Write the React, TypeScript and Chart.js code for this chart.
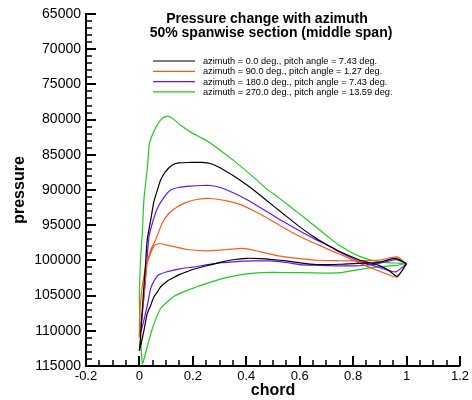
import React, { useEffect, useRef } from 'react';
import { Chart, registerables } from 'chart.js';

Chart.register(...registerables);

type Pt = [number, number];

// ---------- data (chord x, pressure) ----------
const titleLines = ['Pressure change with azimuth', '50% spanwise section (middle span)'];
const xAxisTitle = 'chord';
const yAxisTitle = 'pressure';

const seriesLabels = [
  'azimuth = 0.0 deg., pitch angle = 7.43 deg.',
  'azimuth = 90.0 deg., pitch angle = 1.27 deg.',
  'azimuth = 180.0 deg., pitch angle = 7.43 deg.',
  'azimuth = 270.0 deg., pitch angle = 13.59 deg.',
];
const seriesColors = ['#000000', '#ff5a14', '#6414ff', '#1ecc1e'];

// azimuth 0 (black)
const az0Upper: Pt[] = [
  [0.0, 112800], [0.004, 111000], [0.014, 105200], [0.023, 100450], [0.029, 97140],
  [0.042, 94300], [0.054, 91690], [0.067, 90030], [0.079, 88610], [0.097, 87420],
  [0.122, 86470], [0.147, 86150], [0.19, 86090], [0.234, 86090], [0.265, 86230],
  [0.3, 86800], [0.34, 87700], [0.38, 88700], [0.42, 89800], [0.475, 91450],
  [0.537, 93340], [0.599, 95200], [0.661, 96850], [0.711, 97950], [0.748, 98700],
  [0.822, 99900], [0.896, 100700], [0.933, 101400], [0.965, 102260], [1.0, 100450],
];
const az0Lower: Pt[] = [
  [0.0, 112800], [0.017, 109930], [0.029, 107560], [0.042, 106400], [0.054, 105200],
  [0.067, 104500], [0.079, 103780], [0.104, 102950], [0.13, 102400], [0.153, 101950],
  [0.178, 101600], [0.203, 101250], [0.252, 100750], [0.302, 100270], [0.351, 99910],
  [0.401, 99700], [0.45, 99740], [0.5, 99880], [0.55, 100080], [0.624, 100450],
  [0.674, 100600], [0.748, 100550], [0.822, 100410], [0.896, 100270], [0.959, 99700],
  [1.0, 100450],
];

// azimuth 90 (orange)
const az90Upper: Pt[] = [
  [0.0, 110900], [0.011, 107500], [0.027, 100830], [0.042, 98560], [0.06, 97140],
  [0.085, 94760], [0.11, 93340], [0.141, 92400], [0.178, 91730], [0.215, 91350],
  [0.265, 91210], [0.327, 91550], [0.376, 92050], [0.42, 92800], [0.47, 93800],
  [0.52, 94900], [0.57, 96000], [0.62, 96950], [0.67, 97800], [0.72, 98650],
  [0.77, 99450], [0.822, 100350], [0.872, 101160], [0.922, 101870], [0.965, 102360],
  [1.0, 100550],
];
const az90Lower: Pt[] = [
  [0.0, 110900], [0.004, 106000], [0.02, 101500], [0.035, 99700], [0.055, 97900],
  [0.075, 97600], [0.1, 97800], [0.13, 98050], [0.18, 98450], [0.25, 98650],
  [0.33, 98450], [0.39, 98300], [0.45, 98750], [0.52, 99350], [0.6, 99740],
  [0.67, 99980], [0.75, 100050], [0.82, 100080], [0.9, 99950], [0.965, 99500],
  [1.0, 100550],
];

// azimuth 180 (purple)
const az180Upper: Pt[] = [
  [0.0, 110700], [0.0045, 109650], [0.017, 105200], [0.027, 100700], [0.035, 96850],
  [0.048, 94760], [0.067, 92630], [0.091, 91070], [0.116, 90030], [0.147, 89650],
  [0.19, 89460], [0.234, 89360], [0.265, 89360], [0.302, 89640], [0.351, 90400],
  [0.401, 91350], [0.475, 93010], [0.537, 94450], [0.599, 95800], [0.661, 97050],
  [0.711, 98000], [0.748, 98800], [0.822, 100100], [0.896, 100980], [0.959, 101640],
  [1.0, 100450],
];
const az180Lower: Pt[] = [
  [0.0, 110700], [0.01, 109500], [0.029, 106500], [0.042, 104000], [0.055, 102900],
  [0.07, 102100], [0.1, 101650], [0.15, 101200], [0.2, 100950], [0.28, 100450],
  [0.351, 100220], [0.426, 100080], [0.488, 100080], [0.55, 100300], [0.6, 100600],
  [0.674, 100700], [0.748, 100780], [0.822, 100760], [0.896, 100450], [0.96, 99900],
  [1.0, 100450],
];

// azimuth 270 (green)
const az270Upper: Pt[] = [
  [0.011, 114650], [0.0, 106500], [0.004, 100000], [0.011, 96000], [0.017, 91300],
  [0.03, 86760], [0.038, 83340], [0.064, 80930], [0.086, 79790], [0.105, 79500],
  [0.123, 79790], [0.153, 80780], [0.198, 81920], [0.235, 82630], [0.265, 83340],
  [0.302, 84340], [0.351, 85760], [0.426, 88140], [0.475, 89800], [0.52, 91050],
  [0.574, 92650], [0.62, 94000], [0.674, 95650], [0.711, 96800], [0.748, 97850],
  [0.822, 99400], [0.896, 100200], [0.959, 100370], [1.0, 100450],
];
const az270Lower: Pt[] = [
  [0.011, 114650], [0.029, 112300], [0.05, 109500], [0.08, 106800], [0.13, 105100],
  [0.19, 104100], [0.25, 103300], [0.3, 102700], [0.36, 102150], [0.43, 101800],
  [0.5, 101700], [0.6, 101750], [0.7, 101800], [0.75, 101750], [0.82, 101300],
  [0.9, 100900], [0.96, 100700], [1.0, 100450],
];

const surfaces: [Pt[], Pt[]][] = [
  [az0Upper, az0Lower],
  [az90Upper, az90Lower],
  [az180Upper, az180Lower],
  [az270Upper, az270Lower],
];

const xMin = -0.2, xMax = 1.2, xStep = 0.2, xMinorStep = 0.05;
const yMin = 65000, yMax = 115000, yStep = 5000, yMinorStep = 1000;

const FONT = "'Liberation Sans', Arial, Helvetica, sans-serif";

function loop(upper: Pt[], lower: Pt[]) {
  const u = [...upper].reverse().map(([x, y]) => ({ x, y }));
  const l = lower.slice(1).map(([x, y]) => ({ x, y }));
  return u.concat(l);
}

const tickPlugin = {
  id: 'inwardTicks',
  afterDraw(chart: any) {
    const { ctx, scales, chartArea } = chart;
    const xs = scales.x, ys = scales.y;
    ctx.save();
    ctx.strokeStyle = '#000';
    const nY = Math.round((yMax - yMin) / yMinorStep);
    for (let i = 0; i <= nY; i++) {
      const v = yMin + i * yMinorStep;
      const major = i % Math.round(yStep / yMinorStep) === 0;
      const py = Math.round(ys.getPixelForValue(v));
      ctx.lineWidth = major ? 2 : 1.5;
      ctx.beginPath();
      ctx.moveTo(chartArea.left, py);
      ctx.lineTo(chartArea.left + (major ? 10 : 6), py);
      ctx.stroke();
    }
    const nX = Math.round((xMax - xMin) / xMinorStep);
    for (let i = 0; i <= nX; i++) {
      const v = xMin + i * xMinorStep;
      const major = i % Math.round(xStep / xMinorStep) === 0;
      const px = Math.round(xs.getPixelForValue(v));
      ctx.lineWidth = major ? 2 : 1.5;
      ctx.beginPath();
      ctx.moveTo(px, chartArea.bottom);
      ctx.lineTo(px, chartArea.bottom - (major ? 10 : 6));
      ctx.stroke();
    }
    ctx.restore();
  },
};

const titleLegendPlugin = {
  id: 'titleLegend',
  afterDraw(chart: any) {
    const { ctx, chartArea } = chart;
    const L = chartArea.left;
    ctx.save();
    ctx.fillStyle = '#000';
    ctx.textBaseline = 'alphabetic';
    ctx.textAlign = 'center';
    ctx.font = `bold 14px ${FONT}`;
    ctx.fillText(titleLines[0], L + 181, 23);
    ctx.fillText(titleLines[1], L + 185, 37);

    ctx.font = `9.2px ${FONT}`;
    ctx.textAlign = 'left';
    ctx.textBaseline = 'middle';
    chart.data.datasets.forEach((ds: any, i: number) => {
      const y = 61 + i * 10.3;
      ctx.strokeStyle = ds.borderColor;
      ctx.lineWidth = 1.2;
      ctx.beginPath();
      ctx.moveTo(L + 67, y);
      ctx.lineTo(L + 109, y);
      ctx.stroke();
      ctx.fillStyle = '#000';
      ctx.fillText(ds.label, L + 117, y + 0.5);
    });
    ctx.restore();
  },
};

export default function App() {
  const ref = useRef<HTMLCanvasElement | null>(null);

  useEffect(() => {
    if (!ref.current) return;
    const datasets = surfaces.map(([u, l], i) => ({
      label: seriesLabels[i],
      data: loop(u, l),
      borderColor: seriesColors[i],
      backgroundColor: seriesColors[i],
      borderWidth: 1.2,
      pointRadius: 0,
      showLine: true,
      fill: false,
      tension: 0.2,
    }));
    const chart = new Chart(ref.current, {
      type: 'scatter',
      data: { datasets },
      options: {
        animation: false,
        responsive: false,
        devicePixelRatio: 1,
        layout: { padding: { top: 14, right: 10, bottom: 0, left: 0 } },
        plugins: {
          legend: { display: false },
          tooltip: { enabled: false },
          title: { display: false },
        },
        scales: {
          x: {
            type: 'linear',
            min: xMin,
            max: xMax,
            ticks: {
              stepSize: xStep,
              color: '#000',
              font: { family: FONT, size: 13 },
              padding: 3,
              maxRotation: 0,
              autoSkip: false,
              callback: (v: any) => {
                const r = Math.round(Number(v) * 10) / 10;
                return String(r === 0 ? 0 : r);
              },
            },
            grid: { display: false, drawTicks: false },
            border: { display: true, color: '#000', width: 2 },
            title: {
              display: true,
              text: xAxisTitle,
              color: '#000',
              font: { family: FONT, size: 16, weight: 'bold' },
              padding: { top: 0, bottom: 0 },
            },
            afterFit: (s: any) => { s.height = 34; },
          },
          y: {
            type: 'linear',
            reverse: true,
            min: yMin,
            max: yMax,
            ticks: {
              stepSize: yStep,
              color: '#000',
              font: { family: FONT, size: 14 },
              padding: 5,
              callback: (v: any) => String(v),
            },
            grid: { display: false, drawTicks: false },
            border: { display: true, color: '#000', width: 2 },
            title: {
              display: true,
              text: yAxisTitle,
              color: '#000',
              font: { family: FONT, size: 16, weight: 'bold' },
              padding: { top: 10, bottom: 0 },
            },
            afterFit: (s: any) => { s.width = 86; },
          },
        },
      } as any,
      plugins: [tickPlugin, titleLegendPlugin],
    });
    return () => chart.destroy();
  }, []);

  return (
    <div style={{ position: 'fixed', left: 0, top: 0, width: 472, height: 400, background: '#fff' }}>
      <canvas ref={ref} width={472} height={400} style={{ display: 'block' }} />
    </div>
  );
}
